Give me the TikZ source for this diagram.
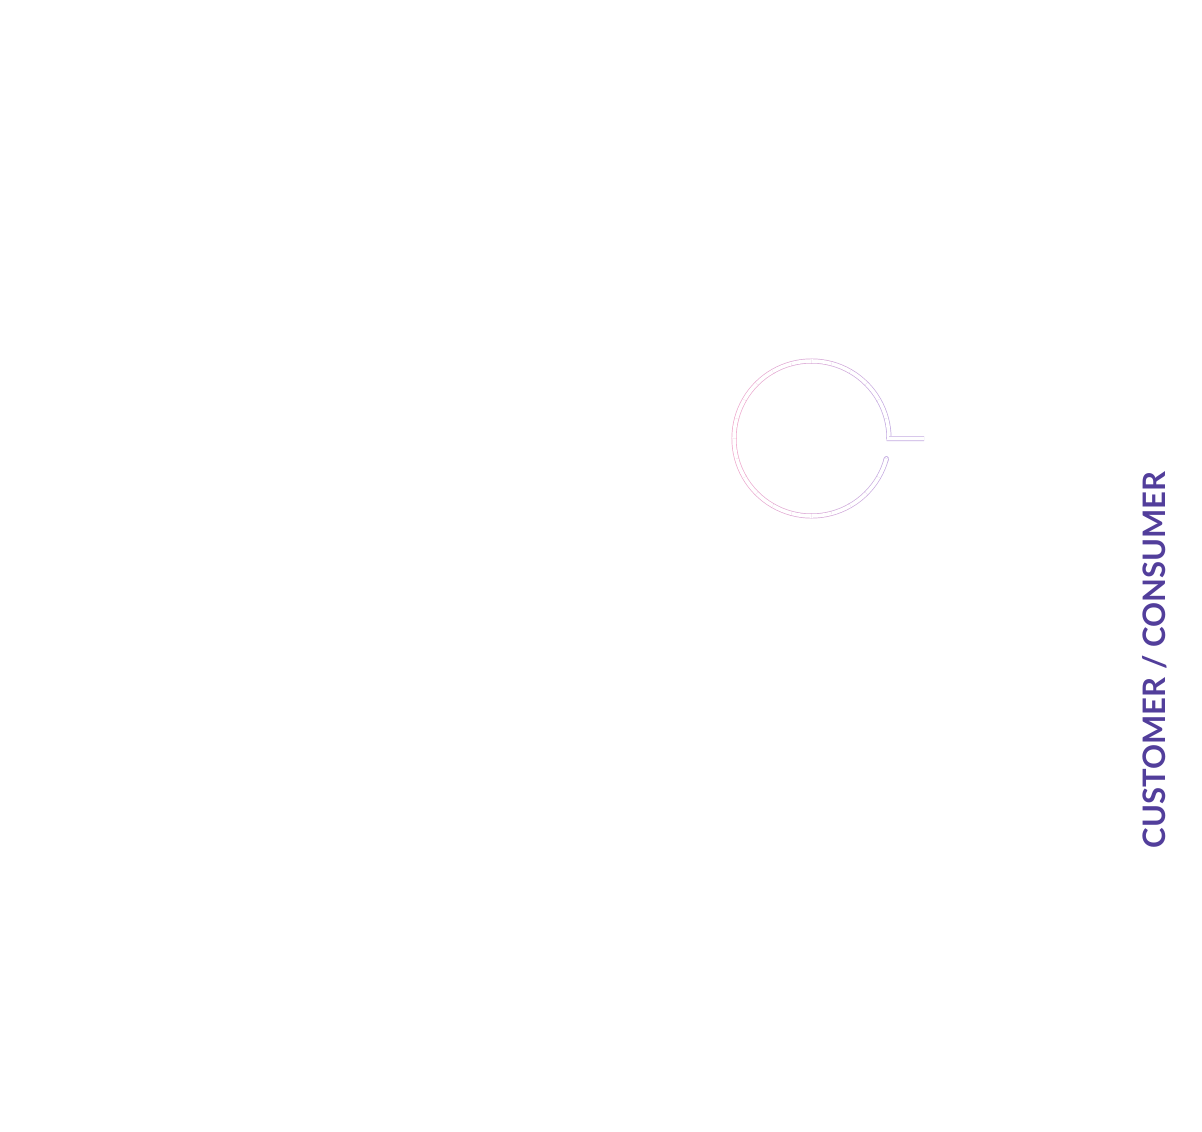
\documentclass[tikz,border=0pt]{standalone}
\usepackage{fontspec}
\setmainfont{Lato}
\definecolor{ringpink}{RGB}{240,170,205}
\definecolor{ringpurple}{RGB}{195,170,225}
\definecolor{labelpurple}{RGB}{82,62,155}
\tikzset{
  ringline/.style={double=white, double distance=3.6pt, line width=0.7pt},
  sidelabel/.style={text=labelpurple, font=\bfseries\fontsize{31}{31}\selectfont, rotate=90, inner sep=0pt}
}
\begin{document}
\begin{tikzpicture}[x=1pt,y=-1pt]
        \useasboundingbox (0,0) rectangle (1202,1132);
        \coordinate (hub) at (811.5,438.5);
        \coordinate (tail) at (924,438.5);

        % round end of the ring
        \draw[ringline, draw=ringpurple, line cap=round] ([shift={(15:77.5)}]hub) arc[start angle=15, end angle=17, radius=77.5];
        % ring, pink on the left and purple on the right
        \foreach \a in {15,30,...,345} {
            \pgfmathsetmacro{\mix}{50+50*cos(\a+7.5)}
            \draw[ringline, draw=ringpurple!\mix!ringpink] ([shift={(\a:77.5)}]hub) arc[start angle=\a, end angle=\a+15.5, radius=77.5];
        }
        \draw[ringline, draw=ringpurple] (tail) -- ([shift={(0:77.5)}]hub) arc[start angle=360, end angle=359, radius=77.5];

        \node[sidelabel] (customer) at (1155,660) {CUSTOMER / CONSUMER};
    \end{tikzpicture}
\end{document}
